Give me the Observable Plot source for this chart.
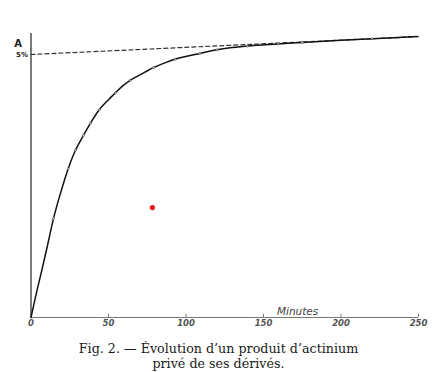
<!DOCTYPE html>
<html><head><meta charset="utf-8">
<script src="https://cdn.jsdelivr.net/npm/d3@7"></script>
<script src="https://cdn.jsdelivr.net/npm/@observablehq/plot@0.6"></script>
<style>
body{margin:0;background:#fff;}
#cap{font-family:"DejaVu Serif","Liberation Serif",serif;font-size:12.7px;line-height:15px;text-align:center;color:#1a1a1a;padding-top:11px;width:437px;margin-left:0px}
</style>
</head><body>
<div id="chart"></div>
<div id="cap">Fig. 2. — Évolution d’un produit d’actinium<br>privé de ses dérivés.</div>
<script>
const minutes = [0,2,4,7,10.5,14.5,19,24,28.7,33.8,38.3,44,49,54.4,59,64,73.8,79,88,93,109,120,139.5,159.5,175,220,249];
const activity = [0,0.27,0.53,0.9,1.35,1.88,2.36,2.83,3.18,3.46,3.69,3.95,4.11,4.27,4.40,4.51,4.67,4.75,4.86,4.91,5.02,5.09,5.16,5.20,5.23,5.30,5.34];
const markMinutes = [14.5,24,28.7,33.8,38.3,44,54.4,64,79,93,109,120,139.5,159.5,175,220];
const asymptoteMinutes = [0,250];
const asymptoteValues = [5.0,5.34];
const xTicks = [0,50,100,150,200,250];
const yLabel = [{v:5, label:"5%"}];
const axisName = "A";
const xName = "Minutes";
const redDot = [{t:78.3, v:2.09}];

const curve = minutes.map((t,i)=>({t, v:activity[i]}));
const marks = curve.filter(d=>markMinutes.includes(d.t));
const asym = asymptoteMinutes.map((t,i)=>({t, v:asymptoteValues[i]}));

const plot = Plot.plot({
  width:437, height:330,
  marginLeft:30.5, marginRight:19, marginTop:27.7, marginBottom:13,
  x:{domain:[0,250], axis:null},
  y:{domain:[0,5.5], axis:null},
  marks:[
    Plot.ruleX([0],{y1:0, y2:5.4, stroke:"#333", strokeWidth:1.3}),
    Plot.ruleY([0],{x1:0, x2:250, stroke:"#777", strokeWidth:1}),
    Plot.ruleX(xTicks,{y1:0, y2:0.06, stroke:"#777", strokeWidth:1}),
    Plot.text(xTicks,{x:d=>d, y:0, text:d=>String(d), dy:6, fontSize:8.5, fontStyle:"italic", fontWeight:"bold", fill:"#555", fontFamily:"DejaVu Sans, sans-serif"}),
    Plot.text([xName],{x:172, y:0, text:d=>d, dy:-6, fontSize:10.5, fontStyle:"italic", fill:"#444", fontFamily:"DejaVu Sans, sans-serif"}),
    Plot.line(asym,{x:"t", y:"v", stroke:"#333", strokeWidth:1.2, strokeDasharray:"4,3"}),
    Plot.line(curve,{x:"t", y:"v", stroke:"#111", strokeWidth:1.5, curve:"catmull-rom"}),
    Plot.dot(marks,{x:"t", y:"v", r:1, stroke:"#444", fill:"#fff", strokeWidth:0.7}),
    Plot.text(yLabel,{x:0, y:"v", text:"label", dx:-9, fontSize:7, fontWeight:"bold", fill:"#222", fontFamily:"DejaVu Sans, sans-serif"}),
    Plot.text([axisName],{x:0, y:5.21, text:d=>d, dx:-13, fontSize:10, fontWeight:"bold", fill:"#222", fontFamily:"DejaVu Sans, sans-serif"}),
    Plot.dot(redDot,{x:"t", y:"v", r:2.6, fill:"#e8191f"})
  ]
});
document.getElementById("chart").appendChild(plot);
</script>
</body></html>
